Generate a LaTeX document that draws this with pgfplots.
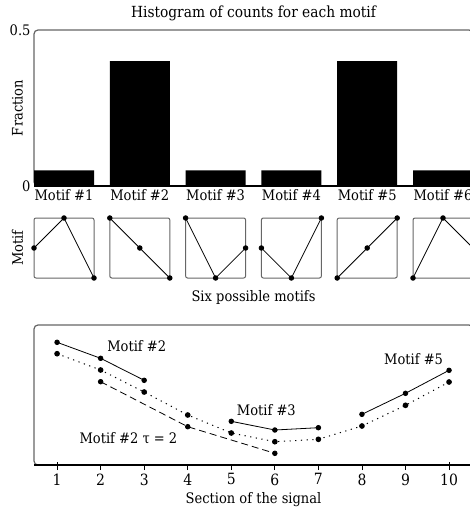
\documentclass[border=0pt]{standalone}
\usepackage{fontspec}
\setmainfont{DejaVu Serif Condensed}
\usepackage{pgfplots}
\pgfplotsset{compat=1.18}
\definecolor{framegray}{gray}{0.4}
\begin{document}
\begin{tikzpicture}[font=\fontsize{14.5}{17}\selectfont]
\useasboundingbox (0pt,0pt) rectangle (470pt,-511pt);
\clip (0pt,0pt) rectangle (470pt,-511pt);
\pgfplotsset{
  every axis/.append style={scale only axis, axis line style={draw=none}, font=\fontsize{14.5}{17}\selectfont,
    /pgf/number format/assume math mode=true},
  mot/.style={black, line width=0.8pt, mark=*, mark size=2.3pt},
}
% ---------------- histogram ----------------
\begin{axis}[at={(34pt,-186pt)}, anchor=south west, width=439pt, height=156pt,
  xmin=0.6042, xmax=6.3958, ymin=0, ymax=0.5,
  ytick={0,0.5}, yticklabels={0,0.5},
  xtick={1,2,3,4,5,6},
  xticklabels={Motif \#1,Motif \#2,Motif \#3,Motif \#4,Motif \#5,Motif \#6},
  major tick length=0pt,
  title={Histogram of counts for each motif},
  title style={font=\fontsize{15.3}{18}\selectfont},
  ylabel={Fraction},
  ylabel style={at={(axis description cs:-0.0376,0.5)}, anchor=center},
  ybar, bar width=60pt, clip=false]
\draw[framegray, line width=1.2pt, rounded corners=4pt] (rel axis cs:0,0) rectangle (rel axis cs:1,1);
\addplot[fill=black, draw=none, bar shift=0pt] coordinates {(1,0.05) (2,0.4) (3,0.05) (4,0.05) (5,0.4) (6,0.05)};
\draw[black, line width=1.5pt] (rel axis cs:0,0) -- (rel axis cs:1,0);
\end{axis}
% ---------------- motifs ----------------
\begin{axis}[at={(34pt,-278pt)}, anchor=south west, width=439pt, height=60pt,
  xmin=0.6042, xmax=6.3958, ymin=0, ymax=1,
  xtick=\empty, ytick=\empty,
  ylabel={Motif},
  ylabel style={at={(axis description cs:-0.0376,0.5)}, anchor=center},
  xlabel={Six possible motifs},
  xlabel style={at={(axis description cs:0.5,0)}, anchor=north, yshift=-8.5pt},
  clip=false]
\draw[framegray, line width=1pt, rounded corners=2pt] (axis cs:0.6042,0) rectangle (axis cs:1.3958,1);
\draw[framegray, line width=1pt, rounded corners=2pt] (axis cs:1.6042,0) rectangle (axis cs:2.3958,1);
\draw[framegray, line width=1pt, rounded corners=2pt] (axis cs:2.6042,0) rectangle (axis cs:3.3958,1);
\draw[framegray, line width=1pt, rounded corners=2pt] (axis cs:3.6042,0) rectangle (axis cs:4.3958,1);
\draw[framegray, line width=1pt, rounded corners=2pt] (axis cs:4.6042,0) rectangle (axis cs:5.3958,1);
\draw[framegray, line width=1pt, rounded corners=2pt] (axis cs:5.6042,0) rectangle (axis cs:6.3958,1);
\addplot[mot] coordinates {(0.6042,0.5) (1,1) (1.3958,0)};
\addplot[mot] coordinates {(1.6042,1) (2,0.5) (2.3958,0)};
\addplot[mot] coordinates {(2.6042,1) (3,0) (3.3958,0.5)};
\addplot[mot] coordinates {(3.6042,0.5) (4,0) (4.3958,1)};
\addplot[mot] coordinates {(4.6042,0) (5,0.5) (5.3958,1)};
\addplot[mot] coordinates {(5.6042,0) (6,1) (6.3958,0.5)};
\end{axis}
% ---------------- signal ----------------
\begin{axis}[at={(34pt,-465pt)}, anchor=south west, width=439pt, height=140pt,
  xmin=0.47, xmax=10.55, ymin=0, ymax=140,
  xtick={1,2,3,4,5,6,7,8,9,10}, ytick=\empty,
  xtick pos=lower, tick align=outside, major tick length=5pt,
  x tick style={black, line width=0.8pt},
  extra x ticks={1,10}, extra x tick labels={},
  extra x tick style={tick align=center, major tick length=6pt},
  xticklabel style={font=\fontsize{15.5}{18}\selectfont},
  xlabel={Section of the signal},
  xlabel style={at={(axis description cs:0.5,0)}, anchor=north, yshift=-24pt},
  clip=false]
\draw[framegray, line width=1.2pt, rounded corners=4pt] (rel axis cs:0,0) rectangle (rel axis cs:1,1);
\draw[black, line width=1.5pt] (rel axis cs:0,0) -- (rel axis cs:1,0);
% signal (dotted)
\addplot[black, line width=1pt, dash pattern=on 1.2pt off 4.5pt, mark=*, mark size=2.3pt, mark options={solid}]
  coordinates {(1,111.3) (2,95) (3,73) (4,50) (5,32) (6,23.3) (7,25.7) (8,39) (9,59.7) (10,83)};
% motif #2 (solid)
\addplot[mot] coordinates {(1,122.7) (2,106.7) (3,84.7)};
% motif #3
\addplot[mot] coordinates {(5,43.7) (6,35) (7,37.3)};
% motif #5
\addplot[mot] coordinates {(8,50.7) (9,71.7) (10,94.7)};
% motif #2 tau=2 (dashed)
\addplot[black, line width=0.8pt, dash pattern=on 7pt off 4pt, mark=*, mark size=2.3pt, mark options={solid}]
  coordinates {(2,83.3) (4,38.3) (6,11.7)};
\node[anchor=base west, inner sep=0pt] at (axis cs:2.15,113.3) {Motif \#2};
\node[anchor=base west, inner sep=0pt] at (axis cs:5.125,50) {Motif \#3};
\node[anchor=base west, inner sep=0pt] at (axis cs:8.507,101) {Motif \#5};
\node[anchor=base west, inner sep=0pt] at (axis cs:1.512,21.7) {Motif \#2 τ = 2};
\end{axis}
\end{tikzpicture}
\end{document}
